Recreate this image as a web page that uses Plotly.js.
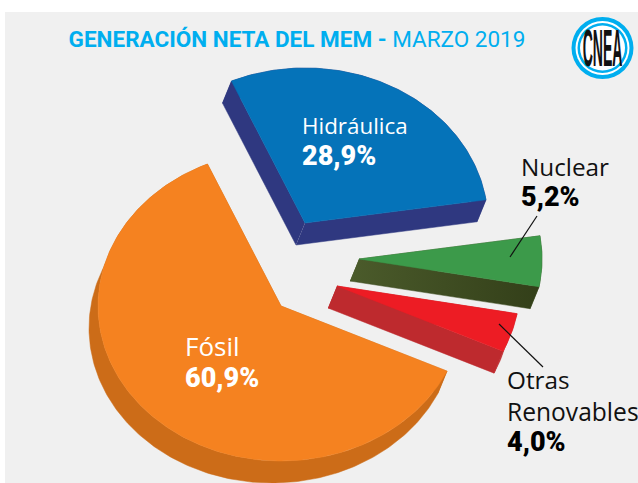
<!DOCTYPE html>
<html><head><meta charset="utf-8">
<script src="https://cdn.plot.ly/plotly-3.0.1.min.js"></script>
<style>html,body{margin:0;padding:0;background:#fff}#c{width:638px;height:483px}</style></head>
<body><div id="c"></div>
<script>
// Data
const categories = ['Hidráulica','Nuclear','Otras Renovables','Fósil'];
const values = [28.9, 5.2, 4.0, 60.9];
const valueLabels = ['28,9%','5,2%','4,0%','60,9%'];
// Styling
const topColors = ['#0573b9','#3c9a4a','#ed1c24','#f58220'];
const sideColors = ['#2f3880','#3f4c22','#be2a2e','#cc6c18'];
// Exploded pie apex for each slice, in pixels; ellipse radii and extrusion
const apexX = [305, 359, 337, 281];
const apexY = [223, 259, 286, 306];
const RX = 183, RY = 155, DX = -9, DY = 22, START = 113.7;

const total = values.reduce((a,b)=>a+b,0);
const traces = [];
const tops = [];
let ang = START;
function side(x,y,i){
  const t={type:'scatter',mode:'lines',x,y,fill:'toself',fillcolor:sideColors[i],
    line:{color:sideColors[i],width:0.5},hoverinfo:'skip',showlegend:false};
  if(i===1){ t.fillgradient={type:'horizontal',colorscale:[[0,'#4b5b2b'],[1,'#333f19']]}; }
  traces.push(t);
}
values.forEach((v,i)=>{
  const sweep = v/total*360, n = Math.max(12, Math.round(sweep));
  const ax=[], ay=[];
  for(let k=0;k<=n;k++){
    const t=(ang - sweep*k/n)*Math.PI/180;
    ax.push(apexX[i]+RX*Math.cos(t)); ay.push(apexY[i]-RY*Math.sin(t));
  }
  ang -= sweep;
  side([...ax, ...ax.slice().reverse().map(x=>x+DX)],[...ay, ...ay.slice().reverse().map(y=>y+DY)],i);
  side([apexX[i],ax[0],ax[0]+DX,apexX[i]+DX],[apexY[i],ay[0],ay[0]+DY,apexY[i]+DY],i);
  side([apexX[i],ax[n],ax[n]+DX,apexX[i]+DX],[apexY[i],ay[n],ay[n]+DY,apexY[i]+DY],i);
  tops.push({type:'scatter',mode:'lines',name:categories[i],
    x:[apexX[i],...ax,apexX[i]],y:[apexY[i],...ay,apexY[i]],fill:'toself',fillcolor:topColors[i],
    line:{color:topColors[i],width:0.5},showlegend:false,hoverinfo:'name'});
});
const font='"Open Sans", sans-serif', boldFont='Roboto, sans-serif';
function lab(x,y,text,color,size){
  return {xref:'x',yref:'y',x,y,xanchor:'left',yanchor:'middle',showarrow:false,align:'left',
    text,font:{family:font,size,color}};
}
function val(x,y,text,color){
  return {xref:'x',yref:'y',x,y,xanchor:'left',yanchor:'middle',showarrow:false,align:'left',
    text,font:{family:boldFont,size:27,weight:900,color}};
}
const annotations=[
  lab(300,125,categories[0],'#ffffff',22.4),
  val(300,156,valueLabels[0],'#ffffff'),
  lab(519,166,categories[1],'#111111',24.3),
  val(519,197,valueLabels[1],'#000000'),
  lab(505,379,'Otras','#111111',24.3),
  lab(505,411,'Renovables','#111111',24.6),
  val(505,442,valueLabels[2],'#000000'),
  lab(183,346,categories[3],'#ffffff',26),
  val(183,378,valueLabels[3],'#ffffff'),
  {xref:'x',yref:'y',x:602.5,y:48,showarrow:false,text:'<b>CNEA</b>',
   font:{family:'"Liberation Sans Narrow", sans-serif',size:52,color:'#111'}}
];
const shapes=[
  {type:'rect',layer:'below',xref:'x',yref:'y',x0:5,x1:638,y0:12,y1:483,fillcolor:'#f0f0f0',line:{width:0}},
  {type:'line',xref:'x',yref:'y',x0:537,y0:216,x1:510,y1:257,line:{color:'#111',width:1.2}},
  {type:'line',xref:'x',yref:'y',x0:499,y0:324,x1:543,y1:367,line:{color:'#111',width:1.2}},
  {type:'circle',xref:'x',yref:'y',x0:571.5,x1:633.5,y0:17,y1:79,fillcolor:'#00aeef',line:{width:0}},
  {type:'circle',xref:'x',yref:'y',x0:575.5,x1:629.5,y0:21,y1:75,fillcolor:'#ffffff',line:{width:0}},
  {type:'circle',xref:'x',yref:'y',x0:577.5,x1:627.5,y0:23,y1:73,fillcolor:'#00aeef',line:{width:0}},
  {type:'circle',xref:'x',yref:'y',x0:580,x1:625,y0:25.5,y1:70.5,fillcolor:'#ffffff',line:{width:0}}
];
Plotly.newPlot('c',[...traces,...tops],{
  width:638,height:483,margin:{l:0,r:0,t:0,b:0},
  paper_bgcolor:'#ffffff',plot_bgcolor:'#ffffff',showlegend:false,
  title:{text:'<b>GENERACIÓN NETA DEL MEM - </b>MARZO 2019',x:297/638,xanchor:'center',y:1-39.5/483,yanchor:'middle',
    font:{family:'Roboto, sans-serif',size:22.5,color:'#00aeef'}},
  xaxis:{range:[0,638],visible:false,fixedrange:true},
  yaxis:{range:[483,0],visible:false,fixedrange:true},
  annotations,shapes
},{displayModeBar:false,staticPlot:true}).then(gd=>{
  // Squeeze the logo lettering into the tall narrow form of the emblem
  const items=gd.querySelectorAll('.annotation');
  const logo=items[items.length-1];
  logo.setAttribute('transform','translate(602.5 48) scale(0.27 0.98) translate(-602.5 -48)');
});
</script></body></html>
